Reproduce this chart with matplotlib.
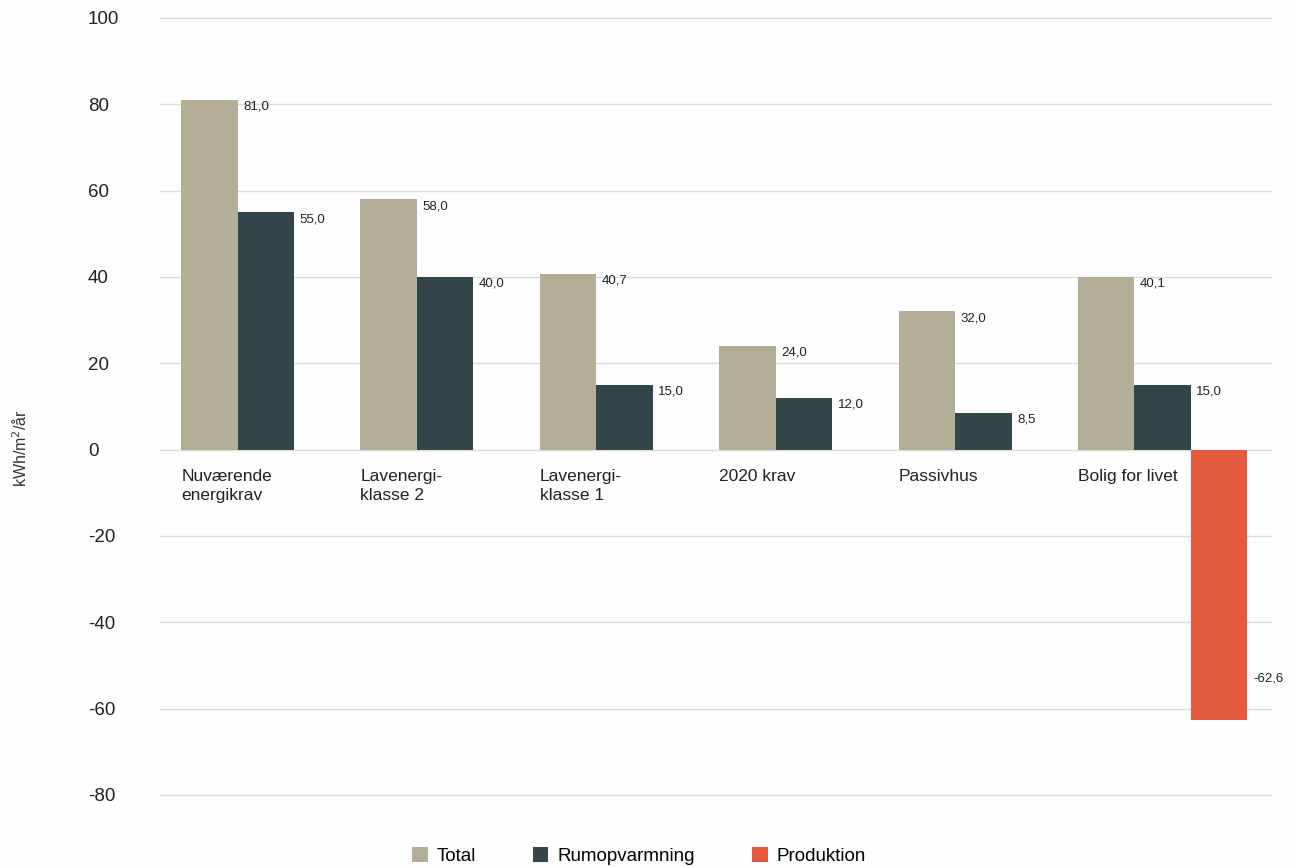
import numpy as np
import matplotlib
matplotlib.use('Agg')
import matplotlib.pyplot as plt

plt.rcParams['font.family'] = ['Liberation Sans', 'DejaVu Sans']

categories = ['Nuværende\nenergikrav', 'Lavenergi-\nklasse 2', 'Lavenergi-\nklasse 1',
              '2020 krav', 'Passivhus', 'Bolig for livet']
total = [81.0, 58.0, 40.7, 24.0, 32.0, 40.1]
rumopvarmning = [55.0, 40.0, 15.0, 12.0, 8.5, 15.0]
produktion = [None, None, None, None, None, -62.6]
series_names = ['Total', 'Rumopvarmning', 'Produktion']
colors = ['#b5ae97', '#33474a', '#e35a3c']
yticks = [-80, -60, -40, -20, 0, 20, 40, 60, 80, 100]

fig = plt.figure(figsize=(12.96, 8.67), dpi=100)
fig.patch.set_facecolor('#fdfdfd')
ax = fig.add_axes([0.1235, 0.0781, 0.858, 0.9037])
ax.set_facecolor('#fdfdfd')

w = 0.315
x = np.arange(len(categories))
all_series = [total, rumopvarmning, produktion]
for i, (vals, name, col) in enumerate(zip(all_series, series_names, colors)):
    xs = [xi + (i - 1) * w - 0.01 for xi, v in zip(x, vals) if v is not None]
    vs = [v for v in vals if v is not None]
    bars = ax.bar(xs, vs, width=w, color=col, label=name, align='center', zorder=2)
    for b, v in zip(bars, vs):
        txt = ('%.1f' % v).replace('.', ',')
        dy = -5 if v >= 0 else 30
        ax.annotate(txt, (b.get_x() + b.get_width(), v), xytext=(4, dy),
                    textcoords='offset points', ha='left', va='center',
                    fontsize=9.5, color='#222222')

# category labels under the zero line, left aligned at the first bar
for xi, lab in zip(x, categories):
    ax.annotate(lab, (xi - 1.5 * w - 0.01, 0), xytext=(0, -14), textcoords='offset points',
                ha='left', va='top', fontsize=12.5, color='#222222', linespacing=1.35)

ax.set_xlim(-0.6, 5.6)
ax.set_ylim(-81, 100.5)
ax.set_yticks(yticks)
ax.set_yticklabels([str(t) for t in yticks])
ax.set_xticks([])
ax.tick_params(axis='y', length=0, pad=52, labelsize=13.5, labelcolor='#222222')
for lab in ax.get_yticklabels():
    lab.set_ha('left')
ax.grid(axis='y', color='#dddddd', linewidth=1, zorder=0)
for s in ax.spines.values():
    s.set_visible(False)

fig.text(0.016, 0.483, 'kWh/m$^2$/år', rotation=90, ha='center', va='center',
         fontsize=11.5, color='#333333')

fig.legend(loc='lower center', bbox_to_anchor=(0.493, -0.017), ncol=3, frameon=False,
           handlelength=0.85, handleheight=0.85, handletextpad=0.5, columnspacing=3.0,
           fontsize=13.5)

fig.savefig('out.png', dpi=100, facecolor=fig.get_facecolor())
